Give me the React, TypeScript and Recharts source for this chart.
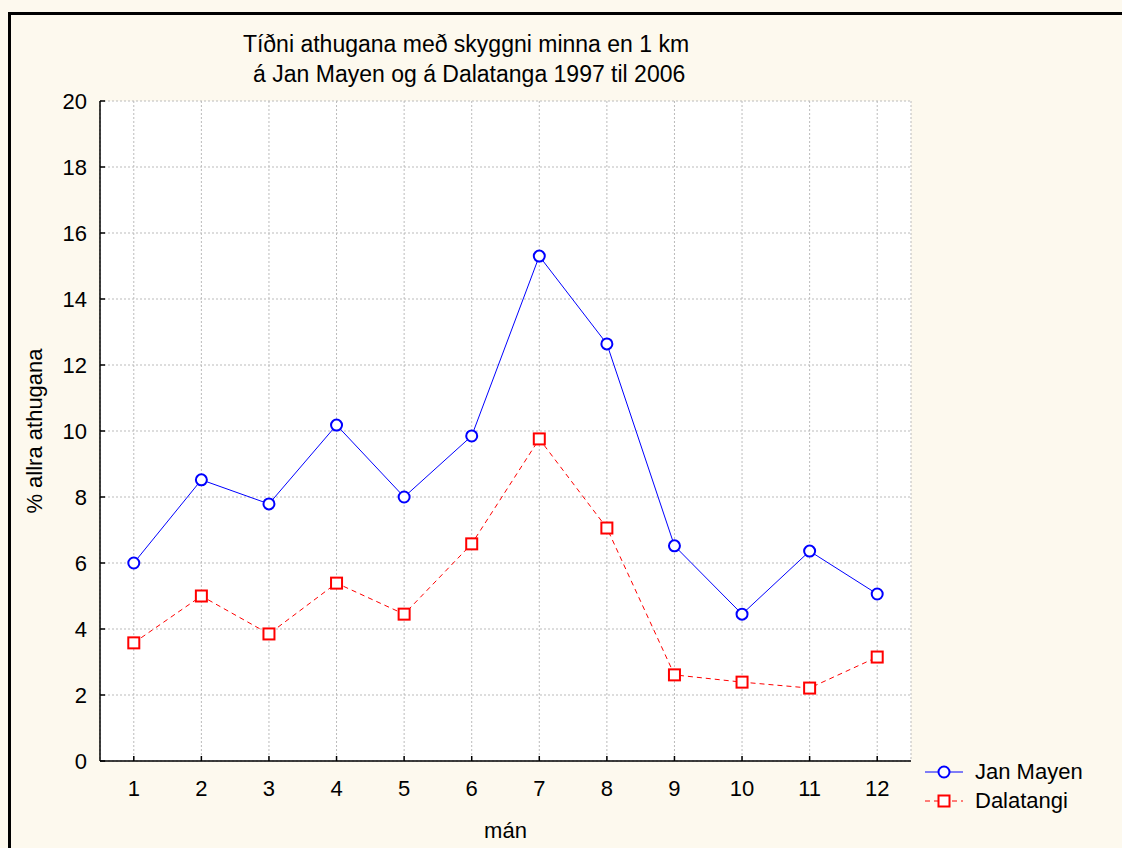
import { LineChart, Line, XAxis, YAxis, CartesianGrid } from 'recharts'

const months = [1, 2, 3, 4, 5, 6, 7, 8, 9, 10, 11, 12]
const janMayen = [6.0, 8.52, 7.79, 10.18, 8.0, 9.85, 15.3, 12.64, 6.52, 4.45, 6.36, 5.06]
const dalatangi = [3.58, 5.0, 3.85, 5.39, 4.45, 6.58, 9.76, 7.06, 2.61, 2.39, 2.21, 3.15]
const yTicks = [0, 2, 4, 6, 8, 10, 12, 14, 16, 18, 20]
const yMinor = [1, 3, 5, 7, 9, 11, 13, 15, 17, 19]
const xMinor = months.flatMap((m) => [m - 0.25, m + 0.25, m + 0.5]).concat([0.75])

const FONT = '"Liberation Sans", Arial, sans-serif'
const BLUE = '#0000ff'
const RED = '#ff0000'
const FS = 22

const data = months.map((m, i) => ({ m, jan: janMayen[i], dal: dalatangi[i] }))

const SquareDot = (props: any) => {
  const { cx, cy, index } = props
  return (
    <rect
      key={`sq-${index}`}
      x={cx - 5.5}
      y={cy - 5.5}
      width={11}
      height={11}
      fill="#fff"
      stroke={RED}
      strokeWidth={2}
    />
  )
}

export default function App() {
  const tickStyle = { fontSize: FS, fill: '#000', fontFamily: FONT }
  return (
    <div
      style={{
        position: 'absolute',
        left: 0,
        top: 0,
        width: 1122,
        height: 848,
        overflow: 'hidden',
        background: '#fdf9ee',
        fontFamily: FONT,
      }}
    >
      <div style={{ position: 'absolute', left: 8, top: 12, width: 1200, height: 3, background: '#000' }} />
      <div style={{ position: 'absolute', left: 8, top: 12, width: 3, height: 900, background: '#000' }} />
      <div
        style={{
          position: 'absolute',
          left: 216,
          width: 500,
          top: 29,
          textAlign: 'center',
          fontSize: 23,
          lineHeight: '30px',
          color: '#000',
          whiteSpace: 'nowrap',
        }}
      >
        <div>Tíðni athugana með skyggni minna en 1 km</div>
        <div>&nbsp;á Jan Mayen og á Dalatanga 1997 til 2006</div>
      </div>
      <div style={{ position: 'absolute', left: 0, top: 0 }}>
        <LineChart
          width={1122}
          height={848}
          data={data}
          margin={{ top: 101, right: 211, bottom: 0, left: 0 }}
          style={{ fontSize: FS, fontFamily: FONT }}
        >
          <CartesianGrid fill="#fff" stroke="#bbb" strokeDasharray="2 2" />
          <XAxis
            dataKey="m"
            type="number"
            domain={[0.5, 12.5]}
            ticks={months}
            height={87}
            tickSize={-5}
            tickMargin={24}
            fontSize={FS}
            tick={tickStyle}
            axisLine={{ stroke: '#000', strokeWidth: 1.5 }}
            tickLine={{ stroke: '#000', strokeWidth: 1.5 }}
            label={(p: any) => (
              <text
                x={p.viewBox.x + p.viewBox.width / 2}
                y={p.viewBox.y + 77}
                textAnchor="middle"
                fontSize={FS}
                fontFamily={FONT}
              >
                mán
              </text>
            )}
          />
          <XAxis
            xAxisId="minorB"
            dataKey="m"
            type="number"
            domain={[0.5, 12.5]}
            ticks={xMinor}
            height={0}
            tickSize={-3}
            tick={false}
            axisLine={false}
            tickLine={{ stroke: '#000' }}
          />
          <XAxis
            xAxisId="top"
            orientation="top"
            dataKey="m"
            type="number"
            domain={[0.5, 12.5]}
            ticks={months}
            height={0}
            tickSize={-5}
            tick={false}
            axisLine={{ stroke: '#333', strokeWidth: 1.5 }}
            tickLine={{ stroke: '#000', strokeWidth: 1.5 }}
          />
          <XAxis
            xAxisId="topMinor"
            orientation="top"
            dataKey="m"
            type="number"
            domain={[0.5, 12.5]}
            ticks={xMinor}
            height={0}
            tickSize={-3}
            tick={false}
            axisLine={false}
            tickLine={{ stroke: '#000' }}
          />
          <YAxis
            domain={[0, 20]}
            ticks={yTicks}
            width={100}
            tickSize={-5}
            tickMargin={18}
            fontSize={FS}
            tick={tickStyle}
            axisLine={{ stroke: '#000', strokeWidth: 1.5 }}
            tickLine={{ stroke: '#000', strokeWidth: 1.5 }}
            label={(p: any) => (
              <text
                x={p.viewBox.x + 42}
                y={p.viewBox.y + p.viewBox.height / 2}
                textAnchor="middle"
                fontSize={FS}
                fontFamily={FONT}
                transform={`rotate(-90 ${p.viewBox.x + 42} ${p.viewBox.y + p.viewBox.height / 2})`}
              >
                % allra athugana
              </text>
            )}
          />
          <YAxis
            yAxisId="minorL"
            domain={[0, 20]}
            ticks={yMinor}
            width={0}
            tickSize={-3}
            tick={false}
            axisLine={false}
            tickLine={{ stroke: '#000' }}
          />
          <YAxis
            yAxisId="right"
            orientation="right"
            domain={[0, 20]}
            ticks={yTicks}
            width={0}
            tickSize={-5}
            tick={false}
            axisLine={{ stroke: '#555', strokeWidth: 2 }}
            tickLine={{ stroke: '#000', strokeWidth: 1.5 }}
          />
          <YAxis
            yAxisId="rightMinor"
            orientation="right"
            domain={[0, 20]}
            ticks={yMinor}
            width={0}
            tickSize={-3}
            tick={false}
            axisLine={false}
            tickLine={{ stroke: '#000' }}
          />
          <Line
            dataKey="jan"
            name="Jan Mayen"
            stroke={BLUE}
            strokeWidth={1}
            dot={{ r: 5.5, fill: '#fff', stroke: BLUE, strokeWidth: 2 }}
            isAnimationActive={false}
          />
          <Line
            dataKey="dal"
            name="Dalatangi"
            stroke={RED}
            strokeWidth={1}
            strokeDasharray="5 4"
            dot={SquareDot}
            isAnimationActive={false}
          />
        </LineChart>
      </div>
      <div style={{ position: 'absolute', left: 923, top: 757, fontSize: FS, lineHeight: '29px' }}>
        <div style={{ display: 'flex', alignItems: 'center' }}>
          <svg width={42} height={16}>
            <line x1={2} y1={8} x2={40} y2={8} stroke={BLUE} />
            <circle cx={21} cy={8} r={5.5} fill="#fff" stroke={BLUE} strokeWidth={2} />
          </svg>
          <span style={{ marginLeft: 10 }}>Jan Mayen</span>
        </div>
        <div style={{ display: 'flex', alignItems: 'center' }}>
          <svg width={42} height={16}>
            <line x1={2} y1={8} x2={40} y2={8} stroke={RED} strokeDasharray="5 4" />
            <rect x={15.5} y={2.5} width={11} height={11} fill="#fff" stroke={RED} strokeWidth={2} />
          </svg>
          <span style={{ marginLeft: 10 }}>Dalatangi</span>
        </div>
      </div>
    </div>
  )
}
